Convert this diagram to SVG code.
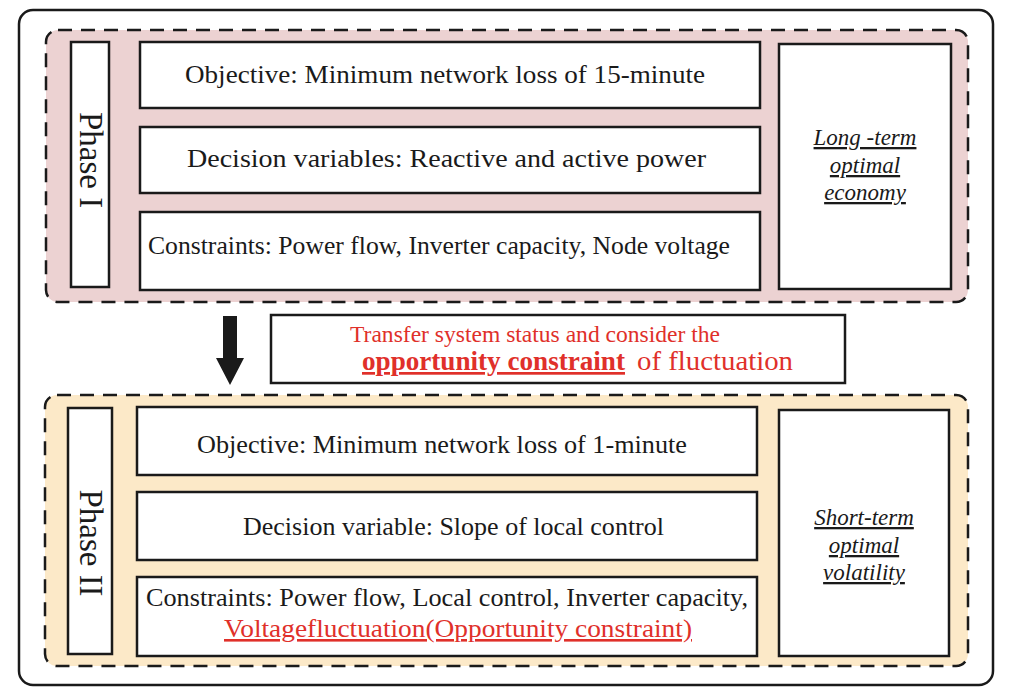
<svg xmlns="http://www.w3.org/2000/svg" width="1009" height="698" viewBox="0 0 1009 698">
<style>
.box{fill:#fff;stroke:#1a1a1a;stroke-width:2.5}
.dash{stroke:#1a1a1a;stroke-width:2.5;stroke-dasharray:14 9}
.t{font-family:"Liberation Serif","Times New Roman",serif;fill:#1a1a1a;text-anchor:middle}
.r{fill:#e0302a}
.it{font-style:italic;text-decoration:underline}
</style>
<rect x="19" y="10" width="974" height="675" rx="14" fill="#fff" stroke="#1a1a1a" stroke-width="2.5"/>
<g id="phase1">
<rect class="dash" x="46" y="30" width="922" height="272" rx="12" fill="#ecd2d2"/>
<rect class="box" x="71" y="42" width="38" height="245"/>
<text class="t" font-size="33" transform="translate(80,160) rotate(90)">Phase I</text>
</g>
<g id="p1-objective"><rect class="box" x="140" y="42" width="620" height="66"/><text class="t" x="445" y="83" font-size="26" textLength="520" lengthAdjust="spacingAndGlyphs">Objective: Minimum network loss of 15-minute</text></g>
<g id="p1-decision"><rect class="box" x="140" y="127" width="620" height="66"/><text class="t" x="446.5" y="167" font-size="26" textLength="519" lengthAdjust="spacingAndGlyphs">Decision variables: Reactive and active power</text></g>
<g id="p1-constraints"><rect class="box" x="140" y="212" width="620" height="78"/><text class="t" x="439" y="254" font-size="26" textLength="582" lengthAdjust="spacingAndGlyphs">Constraints: Power flow, Inverter capacity, Node voltage</text></g>
<g id="p1-goal"><rect class="box" x="779" y="44" width="172" height="245"/>
<text class="t it" font-size="23" x="865" y="145">Long -term</text>
<text class="t it" font-size="23" x="865" y="173">optimal</text>
<text class="t it" font-size="23" x="865" y="200"> economy </text></g>
<g id="connectors">
<path d="M223 316 H237 V358 H244 L230 385 L216 358 H223 Z" fill="#1a1a1a"/>
</g>
<g id="transfer"><rect class="box" x="271" y="315" width="574" height="68"/>
<text class="t r" x="535" y="342" font-size="23" textLength="370" lengthAdjust="spacingAndGlyphs">Transfer system status and consider the</text>
<text class="r" x="362" y="370" font-size="27" font-family="Liberation Serif,serif" font-weight="bold" text-decoration="underline" textLength="263" lengthAdjust="spacingAndGlyphs">opportunity constraint</text>
<text class="r" x="637" y="370" font-size="27" font-family="Liberation Serif,serif" textLength="156" lengthAdjust="spacingAndGlyphs">of fluctuation</text></g>
<g id="phase2">
<rect class="dash" x="45" y="395" width="923" height="271" rx="12" fill="#fce9c8"/>
<rect class="box" x="68" y="408" width="44" height="246"/>
<text class="t" font-size="33" transform="translate(80,543) rotate(90)">Phase II</text>
</g>
<g id="p2-objective"><rect class="box" x="137" y="407" width="620" height="68"/><text class="t" x="442" y="453" font-size="26" textLength="490" lengthAdjust="spacingAndGlyphs">Objective: Minimum network loss of 1-minute</text></g>
<g id="p2-decision"><rect class="box" x="137" y="492" width="620" height="68"/><text class="t" x="453.5" y="535" font-size="26" textLength="421" lengthAdjust="spacingAndGlyphs">Decision variable: Slope of local control</text></g>
<g id="p2-constraints"><rect class="box" x="137" y="577" width="620" height="79"/>
<text class="t" x="447" y="606" font-size="26" textLength="602" lengthAdjust="spacingAndGlyphs">Constraints: Power flow, Local control, Inverter capacity,</text>
<text class="t r" x="458" y="637" font-size="26" text-decoration="underline" textLength="468" lengthAdjust="spacingAndGlyphs">Voltagefluctuation(Opportunity constraint)</text></g>
<g id="p2-goal"><rect class="box" x="779" y="410" width="170" height="246"/>
<text class="t it" font-size="23" x="864" y="525">Short-term </text>
<text class="t it" font-size="23" x="864" y="553">optimal</text>
<text class="t it" font-size="23" x="864" y="580">volatility</text></g>
</svg>
